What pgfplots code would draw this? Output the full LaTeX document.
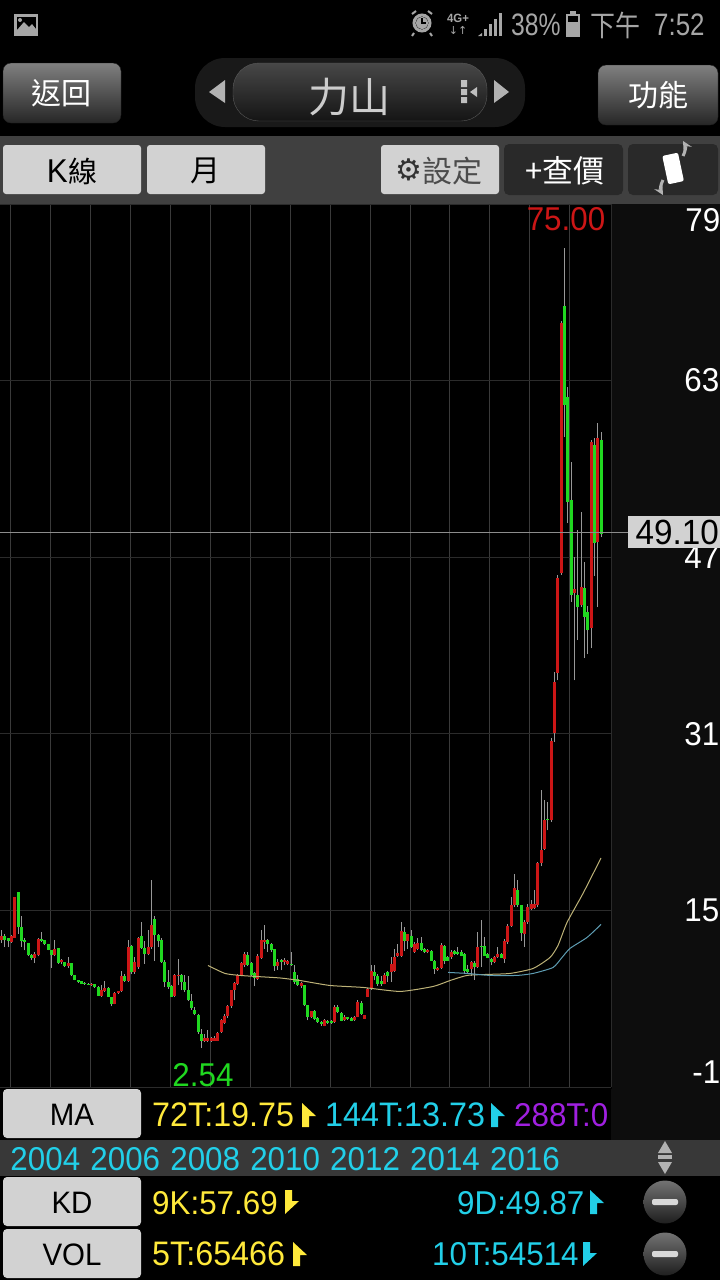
\documentclass[border=0pt]{standalone}
\usepackage{fontspec}
\usepackage{pgfplots}
\usepackage{pgfplotstable}
\pgfplotsset{compat=1.18}
\setmainfont{Liberation Sans}[FakeStretch=0.95]
\newfontfamily\cjk{Noto Sans CJK TC}
\newfontfamily\sym{DejaVu Sans}
\newcommand{\px}[1]{\fontsize{#1pt}{#1pt}\selectfont}

\definecolor{upred}{HTML}{CC1616}
\definecolor{dngreen}{HTML}{20D820}
\definecolor{wick}{HTML}{989898}
\definecolor{griddim}{HTML}{2B2B2B}
\definecolor{gridv}{HTML}{3A3A3A}
\definecolor{ma72}{HTML}{BDB277}
\definecolor{ma144}{HTML}{5E9DB3}
\definecolor{txtyellow}{HTML}{FFE93B}
\definecolor{txtcyan}{HTML}{22CFE8}
\definecolor{txtpurple}{HTML}{A020E0}
\definecolor{btnlight}{HTML}{D2D2D2}
\definecolor{statusgrey}{HTML}{A6A6A6}

% i bot top lo hi
\pgfplotstableread{
i bot top lo hi
0 12.28 12.64 12.04 13.19
3 12.13 12.64 12.04 12.73
4 12.52 16.21 12.52 16.21
10 10.71 11.07 10.23 11.22
11 10.92 12.43 10.83 12.52
16 10.92 11.53 10.83 12.28
18 10.29 10.47 10.10 10.62
20 9.92 10.23 9.80 10.77
27 8.23 8.35 8.17 8.41
30 7.29 7.75 7.20 8.20
31 7.69 7.99 7.63 8.59
34 6.54 7.51 6.48 7.60
35 7.51 7.66 7.45 7.69
36 7.66 9.02 7.60 9.50
38 8.59 11.68 8.50 12.28
40 9.41 10.32 9.26 10.77
41 9.86 12.52 9.71 12.58
44 11.01 11.68 10.92 13.19
45 11.68 13.64 11.53 17.72
52 7.29 9.11 7.20 9.20
53 9.02 9.17 8.20 10.62
61 3.15 3.43 3.06 3.76
62 3.15 3.43 3.06 4.18
63 3.15 3.43 3.09 3.52
64 3.21 3.43 3.15 3.58
65 3.21 3.88 3.15 3.97
66 3.97 5.09 3.88 5.18
67 4.79 5.39 4.73 5.63
68 5.39 6.30 5.27 6.39
69 6.30 7.75 6.18 7.81
70 7.75 8.41 6.84 8.50
71 8.29 9.11 8.20 9.26
72 9.11 10.23 9.02 10.32
73 10.01 11.01 9.86 11.22
77 8.81 10.83 8.71 11.07
78 10.71 12.28 10.62 13.25
79 12.13 12.34 11.53 13.64
83 9.92 10.32 9.62 10.62
85 10.32 10.53 10.01 10.71
86 10.17 10.41 10.01 10.47
90 8.11 8.41 7.99 8.50
93 5.32 5.87 5.26 5.93
97 4.57 5.08 4.50 5.14
100 4.87 6.23 4.81 6.47
103 5.08 5.38 5.02 5.48
106 5.08 5.38 5.02 5.44
107 5.38 6.68 5.32 6.84
109 5.17 5.48 5.14 5.54
110 7.20 7.89 7.14 8.00
111 7.89 9.49 7.80 10.01
115 8.35 9.19 8.30 9.31
117 9.40 10.16 8.50 10.76
118 9.49 10.82 9.40 11.52
119 10.91 11.13 10.80 11.97
120 10.91 13.12 10.80 13.94
122 12.27 12.82 11.52 12.90
124 11.22 11.97 11.15 12.10
125 11.52 12.03 11.40 12.52
128 11.19 11.37 11.10 11.52
131 9.62 9.80 9.50 9.90
132 9.80 11.91 9.70 12.03
135 10.76 11.22 10.60 11.40
141 9.71 10.31 9.10 10.46
143 9.86 11.73 9.80 13.03
148 10.31 10.76 10.20 10.85
149 10.76 11.07 10.70 11.67
151 10.61 12.27 10.22 12.43
152 12.12 13.63 12.00 13.79
153 13.63 15.45 13.50 16.20
154 15.45 17.02 15.30 18.32
157 12.88 13.94 11.67 14.10
158 13.94 15.30 13.80 15.54
159 15.15 15.54 15.00 15.90
160 15.24 15.54 15.10 16.87
161 15.45 19.29 15.30 19.38
162 19.29 20.49 18.98 25.93
163 20.58 23.15 20.50 25.03
165 23.16 30.32 23.00 30.60
166 31.05 35.70 30.26 36.58
167 36.49 45.10 35.85 45.37
168 45.55 68.22 45.40 68.40
172 43.77 44.10 35.85 47.03
174 42.65 44.31 42.50 51.11
177 40.57 57.46 38.75 57.61
179 48.36 57.79 42.47 59.15
}\redk

\pgfplotstableread{
i bot top lo hi
1 12.28 12.64 11.68 12.88
2 12.22 12.46 11.68 12.52
5 13.49 16.66 12.88 16.66
6 12.22 13.49 11.68 14.46
7 12.10 12.34 11.37 12.52
8 10.92 12.04 10.83 12.04
9 10.68 10.98 10.47 11.07
12 12.22 12.43 12.13 13.04
13 11.92 12.28 11.83 12.34
14 11.43 11.92 11.37 11.98
15 10.92 11.43 9.80 11.43
17 10.23 11.62 10.17 11.62
19 9.92 10.29 9.86 10.32
21 9.11 10.23 9.02 10.23
22 8.71 9.11 8.65 9.11
23 8.50 8.71 8.44 8.71
24 8.35 8.56 8.29 8.59
25 8.29 8.41 8.23 8.47
26 8.26 8.35 8.23 8.41
28 8.05 8.29 7.99 8.29
29 7.29 8.05 7.23 8.11
32 7.20 7.99 7.14 8.05
33 6.54 7.20 6.30 7.20
37 8.59 9.02 8.53 9.26
39 9.41 11.74 9.20 11.83
42 11.62 12.70 11.53 13.94
43 11.01 11.62 10.17 12.22
46 12.73 14.18 10.41 14.46
47 12.22 12.73 11.68 12.88
48 10.32 12.34 10.23 12.52
49 8.50 10.32 8.05 10.47
50 8.05 8.50 7.90 9.62
51 7.20 8.11 7.14 8.20
54 8.50 9.11 7.75 9.20
55 7.81 8.50 7.60 9.11
56 6.84 7.81 6.78 9.02
57 6.18 6.78 6.00 7.45
58 5.57 6.00 5.48 6.24
59 3.97 5.48 3.82 5.63
60 3.21 3.82 2.54 4.27
74 10.01 10.92 9.92 11.22
75 9.11 10.23 9.02 10.32
76 8.90 9.32 8.11 9.41
80 11.98 12.28 11.22 12.43
81 11.37 11.98 11.22 12.04
82 9.92 11.53 9.50 11.53
84 10.32 10.47 9.56 10.62
87 10.01 10.17 9.95 11.22
88 8.50 9.41 8.35 10.01
89 8.20 8.81 8.11 9.11
91 6.39 8.20 6.30 8.26
92 5.33 6.39 5.03 6.45
94 5.17 5.93 5.08 6.00
95 4.87 5.26 4.80 5.38
96 4.72 4.87 4.57 4.96
98 4.78 5.02 4.70 5.08
99 4.81 5.02 4.72 5.10
101 5.78 6.29 5.70 6.47
102 5.02 5.72 4.95 5.78
104 5.14 5.32 5.08 5.38
105 5.02 5.26 4.95 5.32
108 5.63 6.59 5.55 6.75
112 9.10 9.40 8.65 10.01
113 8.35 9.10 8.19 9.25
114 8.35 8.59 8.19 9.10
116 9.10 9.40 8.50 9.55
121 12.27 13.03 11.31 13.48
123 11.67 12.64 11.60 13.18
126 11.43 12.03 11.35 12.58
127 11.19 11.49 11.10 11.60
129 10.46 11.31 10.40 11.40
130 9.71 10.46 9.25 10.55
133 10.46 11.76 10.16 11.85
134 10.46 10.76 10.40 10.85
136 11.07 11.31 11.00 11.40
137 11.01 11.22 10.95 11.67
138 10.91 11.22 10.85 11.37
139 9.55 11.01 9.25 11.10
140 9.40 9.71 9.25 10.01
142 9.86 10.22 8.71 10.46
144 11.67 11.82 9.86 14.09
145 10.91 11.82 10.85 12.58
146 10.70 11.01 10.65 11.10
147 10.31 10.61 10.01 10.70
150 10.70 11.07 10.65 11.15
155 15.45 16.87 15.30 17.71
156 12.94 15.45 12.27 15.50
164 23.15 23.30 22.25 24.82
169 60.78 69.76 57.88 75.00
170 52.02 61.54 50.08 62.44
171 43.56 52.17 42.95 55.64
173 42.50 43.56 39.48 49.45
175 41.59 44.19 37.85 46.57
176 40.38 42.04 38.21 42.56
178 48.27 57.16 45.28 57.79
180 49.10 57.61 48.80 58.36
}\greenk

% flag next to the indicator values
\newcommand{\flagup}[3]{\fill[#3] (#1,#2-12) -- (#1+14,#2+1) -- (#1+7,#2+1) -- (#1+7,#2+12) -- (#1,#2+12) -- cycle;}
\newcommand{\flagdn}[3]{\fill[#3] (#1,#2+12) -- (#1+14,#2-1) -- (#1+7,#2-1) -- (#1+7,#2-12) -- (#1,#2-12) -- cycle;}

\begin{document}
\begin{tikzpicture}
\path[use as bounding box, fill=black] (0pt,0pt) rectangle (720pt,-1280pt);

\begin{scope}[x=1pt,y=-1pt]
% right column, bands
\fill[black!95!white] (612,204) rectangle (720,1140);
\fill[black!75!white] (0,136) rectangle (720,204);
\fill[black!78!white] (0,1140) rectangle (720,1176);

% status bar
\fill[statusgrey] (14,14) rectangle (38,36);
\fill[black] (16.5,16.5) rectangle (35.5,30);
\fill[statusgrey] (17,30) -- (24,22) -- (29,27) -- (32,24) -- (36,29) -- (36,31) -- (17,31) -- cycle;
\fill[statusgrey] (20,20) circle (2);
\draw[statusgrey,line width=3pt] (422,23) circle (8);
\fill[statusgrey] (422,23) circle (6);
\draw[black,line width=1.2pt] (422,18) -- (422,23) -- (426,23);
\draw[statusgrey,line width=2pt] (412,14) -- (416,11) (428,11) -- (432,14) (414,33) -- (412,36) (430,33) -- (432,36);
\node[text=statusgrey,font=\px{12}\bfseries,inner sep=0pt] at (458,18) {4G+};
\node[text=statusgrey,font=\sym\px{11},inner sep=0pt] at (458,30) {↓↑};
\fill[statusgrey] (478,36) -- (482,33) -- (482,36) -- cycle;
\foreach \xx/\yy in {484/29,489/24,494/19,499/13}{\fill[statusgrey] (\xx,\yy) rectangle (\xx+3,36);}
\node[anchor=west,text=statusgrey,font=\px{31},inner sep=0pt,xscale=0.84] at (511,25) {38\%};
\fill[statusgrey] (566,14) rectangle (580,37);
\fill[statusgrey] (570,11) rectangle (576,14);
\fill[black] (568,16) rectangle (578,22);
\node[anchor=west,text=statusgrey,font=\cjk\px{29},inner sep=0pt,xscale=0.86] at (590,25) {下午};
\node[anchor=west,text=statusgrey,font=\px{31},inner sep=0pt,xscale=0.88] at (654,25) {7:52};

% top buttons
\shade[top color=black!50!white,middle color=black!76!white,bottom color=black!85!white,rounded corners=8pt,draw=black!88!white] (3,63) rectangle (121,123);
\shade[top color=black!50!white,middle color=black!76!white,bottom color=black!85!white,rounded corners=8pt,draw=black!88!white] (598,65) rectangle (718,125);
\node[text=white,font=\cjk\px{30},inner sep=0pt] at (61,93) {返回};
\node[text=white,font=\cjk\px{30},inner sep=0pt] at (658,95) {功能};
\fill[black!90!white,rounded corners=30pt] (195,58) rectangle (525,127);
\shade[top color=black!72!white,bottom color=black!92!white,rounded corners=26pt,draw=black!65!white] (233,63) rectangle (487,121);
\node[text=black!20!white,font=\cjk\px{41},inner sep=0pt] at (349,97) {力山};
\fill[black!30!white] (225,80) -- (225,103) -- (209,92) -- cycle;
\fill[black!30!white] (494,80) -- (494,103) -- (509,92) -- cycle;
\fill[black!25!white] (461,80) rectangle (467,87) (461,89) rectangle (467,95) (461,97) rectangle (467,103);
\fill[black!25!white] (477,87) -- (477,97) -- (470,92) -- cycle;

% tool row
\fill[btnlight,rounded corners=3pt] (3,145) rectangle (141,194);
\fill[btnlight,rounded corners=3pt] (147,145) rectangle (265,194);
\fill[btnlight,rounded corners=3pt] (381,145) rectangle (499,194);
\fill[black!84!white,rounded corners=5pt] (504,144) rectangle (623,195);
\fill[black!84!white,rounded corners=5pt] (628,144) rectangle (718,195);
\node[text=black,font=\px{33},inner sep=0pt,anchor=east] at (68,171) {K};
\node[text=black,font=\cjk\px{29},inner sep=0pt,anchor=west] at (68,171) {線};
\node[text=black,font=\cjk\px{30},inner sep=0pt] at (205,171) {月};
\node[text=black!80!white,font=\sym\px{30},inner sep=0pt] at (409,170) {⚙};
\node[text=black!70!white,font=\cjk\px{30},inner sep=0pt] at (452,171) {設定};
\node[text=white,font=\cjk\px{31},inner sep=0pt] at (565,171) {+查價};
\draw[black!30!white,line width=3pt,-stealth] (663,180) arc[start angle=210,end angle=150,radius=15];
\draw[black!30!white,line width=3pt,-stealth] (683,156) arc[start angle=30,end angle=-30,radius=15];
\fill[white,rounded corners=2pt,rotate around={12:(673,168)}] (665,154) rectangle (681,183);

% lower rows
\foreach \yy/\lab in {1089/MA,1177/KD,1229/VOL}{
  \fill[btnlight,rounded corners=4pt] (3,\yy) rectangle (141,\yy+49);
  \node[text=black,font=\px{31},inner sep=0pt] at (72,\yy+26) {\lab};
}
\node[anchor=west,text=txtyellow,font=\px{34},inner sep=0pt] at (152,1115) {72T:19.75};
\flagup{302}{1115}{txtyellow}
\node[anchor=west,text=txtcyan,font=\px{34},inner sep=0pt] at (325,1115) {144T:13.73};
\flagup{491}{1115}{txtcyan}
\node[anchor=west,text=txtpurple,font=\px{33},inner sep=0pt] at (514,1115) {288T:0};
\fill[black!95!white] (611,1089) rectangle (720,1140);
\fill[black!30!white] (658,1153) -- (672,1153) -- (665,1141) -- cycle;
\fill[black!30!white] (658,1155) rectangle (672,1159);
\fill[black!30!white] (658,1162) -- (672,1162) -- (665,1174) -- cycle;
\node[anchor=west,text=txtyellow,font=\px{33},inner sep=0pt] at (152,1203) {9K:57.69};
\flagdn{285}{1202}{txtyellow}
\node[anchor=west,text=txtcyan,font=\px{33},inner sep=0pt] at (457,1203) {9D:49.87};
\flagup{590}{1202}{txtcyan}
\node[anchor=west,text=txtyellow,font=\px{34},inner sep=0pt] at (152,1254) {5T:65466};
\flagup{293}{1254}{txtyellow}
\node[anchor=west,text=txtcyan,font=\px{33},inner sep=0pt] at (432,1254) {10T:54514};
\flagdn{583}{1254}{txtcyan}
\foreach \yy in {1202,1254}{
  \shade[top color=black!55!white,bottom color=black!88!white] (665,\yy) circle (21.5);
  \fill[black!15!white,rounded corners=2pt] (652,\yy-3) rectangle (678,\yy+3);
}
\end{scope}

\begin{axis}[
  at={(0pt,-204pt)},anchor=north west,
  scale only axis,width=611pt,height=883pt,
  xmin=-0.45,xmax=183,ymin=-1,ymax=79,
  axis line style={griddim},
  axis x line*=bottom,axis y line*=right,
  tick style={draw=none},
  grid=major,
  x grid style={gridv,line width=0.9pt},
  y grid style={griddim,line width=1pt},
  xtick={2.64,14.64,26.64,38.64,50.64,62.64,74.64,86.64,98.64,110.64,122.64,134.64,146.64,158.64,170.64},
  xticklabels={2004,,2006,,2008,,2010,,2012,,2014,,2016,,},
  xticklabel style={anchor=north west,inner sep=0pt,yshift=-60pt,text=txtcyan,font=\px{33}},
  ytick={-1,15,31,47,63,79},
  yticklabels={,15,31,47,63,},
  yticklabel style={anchor=east,inner sep=0pt,xshift=108.5pt,text=white,font=\px{33}},
  /pgf/number format/assume math mode=true,
  clip=true,
]
% wicks, then bodies
\addplot[draw=none,no markers,forget plot,error bars/.cd,y dir=plus,y explicit,error mark=none,error bar style={draw=wick,line width=1pt}]
  table[x=i,y=lo,y error expr=\thisrow{hi}-\thisrow{lo}] {\redk};
\addplot[draw=none,no markers,forget plot,error bars/.cd,y dir=plus,y explicit,error mark=none,error bar style={draw=wick,line width=1pt}]
  table[x=i,y=lo,y error expr=\thisrow{hi}-\thisrow{lo}] {\greenk};
\addplot[draw=none,no markers,forget plot,error bars/.cd,y dir=plus,y explicit,error mark=none,error bar style={draw=upred,line width=3pt}]
  table[x=i,y=bot,y error expr=\thisrow{top}-\thisrow{bot}] {\redk};
\addplot[draw=none,no markers,forget plot,error bars/.cd,y dir=plus,y explicit,error mark=none,error bar style={draw=dngreen,line width=3pt}]
  table[x=i,y=bot,y error expr=\thisrow{top}-\thisrow{bot}] {\greenk};
% 72T
\addplot[ma72,line width=1pt,smooth,tension=0.35] coordinates {
(62,10.01)(67.1,9.29)(71.6,9.11)(76.1,9.02)(83.6,8.88)(89.6,8.65)(98.6,8.20)(108.6,8.02)(119.7,7.66)(129.6,8.11)(134.7,8.65)(139.8,9.11)(145.8,9.20)(152.7,9.29)(159.6,9.74)(164.7,10.74)(167.1,11.83)(169.8,13.91)(174.6,16.54)(180,19.75)
};
% 144T
\addplot[ma144,line width=1pt,smooth,tension=0.35] coordinates {
(134.1,9.38)(139.8,9.29)(146.7,9.11)(154.8,9.11)(159.6,9.29)(165.6,9.83)(168.3,10.74)(170.7,11.56)(175.8,12.55)(180,13.73)
};
% last price
\addplot[black!45!white,line width=1pt] coordinates {(-0.45,49.28)(183,49.28)};
\node[text=upred,font=\px{33},inner sep=0pt] at (axis cs:169.5,77.65) {75.00};
\node[text=dngreen,font=\px{33},inner sep=0pt] at (axis cs:60.5,0.04) {2.54};
\end{axis}

\begin{scope}[x=1pt,y=-1pt]
\node[anchor=east,text=white,font=\px{33},inner sep=0pt] at (720.5,220) {79};
\node[anchor=east,text=white,font=\px{33},inner sep=0pt] at (720.5,1072) {-1};
\fill[black!45!white] (611,531.5) rectangle (628,533);
\fill[btnlight] (628,516) rectangle (720,548);
\node[anchor=east,text=black,font=\px{35},inner sep=0pt] at (719,532) {49.10};
\end{scope}
\end{tikzpicture}
\end{document}
